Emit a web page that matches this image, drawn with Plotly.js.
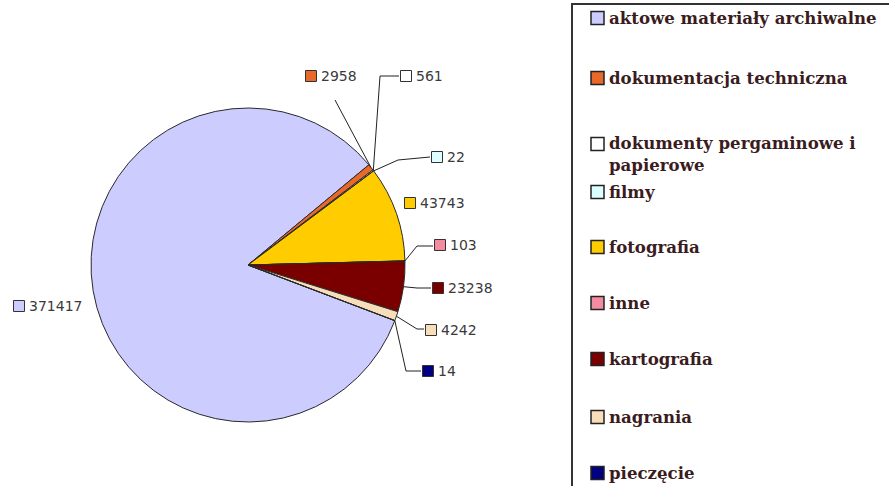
<!DOCTYPE html>
<html>
<head>
<meta charset="utf-8">
<script src="https://cdn.plot.ly/plotly-3.0.1.min.js"></script>
<style>html,body{margin:0;padding:0;background:#fff;}#chart{width:889px;height:486px;}</style>
</head>
<body>
<div id="chart"></div>
<script>
// ---- data ----
const categories = ["aktowe materiały archiwalne", "dokumentacja techniczna", "dokumenty pergaminowe i papierowe", "filmy", "fotografia", "inne", "kartografia", "nagrania", "pieczęcie"];
const counts = [371417, 2958, 561, 22, 43743, 103, 23238, 4242, 14];
const sliceColors = ["#CCCCFF", "#E8692A", "#FFFFFF", "#DDFFFF", "#FFCC00", "#F38CA0", "#7A0000", "#F8DDBB", "#000080"];

// ---- layout constants (pixels) ----
const W = 889, H = 486;
const CX = 248, CY = 265, R = 157;
const ROT = 110.75;
// label square centre + leader-line elbow points
const labelSq = [[19, 306], [311, 76], [406, 76], [437, 157], [410, 203], [440, 245], [438, 288], [431, 330], [428, 371]];
const leaders = [null, [[335, 100]], [[380, 76], [399, 76]], [[398, 160], [430, 157]], null, [[417, 246], [433, 246]], [[417, 288], [431, 288]], [[417, 329], [424, 329]], [[406, 371], [421, 371]]];
const legendY = [18, 78, 153.5, 192, 247, 303, 359, 417, 473];
const legendSqY = [18, 78, 144, 192, 247, 303, 359, 417, 473];

const total = counts.reduce((a, b) => a + b, 0);
const shapes = [];
const annotations = [];

// legend frame
shapes.push({type: 'rect', xref: 'x', yref: 'y', x0: 572, x1: 895, y0: 4, y1: 495, line: {color: '#333', width: 2}, fillcolor: 'rgba(0,0,0,0)'});

let cum = 0;
counts.forEach((v, i) => {
  const mid = (ROT + (cum + v / 2) / total * 360) * Math.PI / 180;
  cum += v;
  const px = CX + R * Math.sin(mid), py = CY - R * Math.cos(mid);
  const [sx, sy] = labelSq[i];
  if (leaders[i]) {
    let d = 'M' + px.toFixed(1) + ',' + py.toFixed(1);
    leaders[i].forEach(p => { d += ' L' + p[0] + ',' + p[1]; });
    shapes.push({type: 'path', xref: 'x', yref: 'y', path: d, line: {color: '#222', width: 1}});
  }
  shapes.push({type: 'rect', xref: 'x', yref: 'y', x0: sx - 5.5, x1: sx + 5.5, y0: sy - 5.5, y1: sy + 5.5, fillcolor: sliceColors[i], line: {color: '#333', width: 1}});
  annotations.push({xref: 'x', yref: 'y', x: sx + 8, y: sy, xanchor: 'left', yanchor: 'middle', showarrow: false,
    text: String(v), font: {family: 'DejaVu Sans', size: 14, color: '#3a3a3a'}});
  // legend
  const ly = legendSqY[i];
  shapes.push({type: 'rect', xref: 'x', yref: 'y', x0: 591, x1: 604, y0: ly - 6.5, y1: ly + 6.5, fillcolor: sliceColors[i], line: {color: '#222', width: 1.5}});
  annotations.push({xref: 'x', yref: 'y', x: 607, y: legendY[i], xanchor: 'left', yanchor: 'middle', align: 'left', showarrow: false,
    text: categories[i].replace(' i papierowe', ' i<br>papierowe'), font: {family: 'DejaVu Serif', size: 16.6, color: '#3a1c20', weight: 'bold'}});
});

const trace = {
  type: 'pie', labels: categories, values: counts, sort: false, direction: 'clockwise', rotation: ROT,
  marker: {colors: sliceColors, line: {color: '#2a2a2a', width: 1}},
  textinfo: 'none', hoverinfo: 'label+value', showlegend: false,
  domain: {x: [(CX - R) / W, (CX + R) / W], y: [(H - CY - R) / H, (H - CY + R) / H]}
};

const layout = {
  width: W, height: H, margin: {l: 0, r: 0, t: 0, b: 0},
  paper_bgcolor: '#fff', plot_bgcolor: 'rgba(0,0,0,0)', showlegend: false,
  xaxis: {range: [0, W], visible: false, fixedrange: true},
  yaxis: {range: [H, 0], visible: false, fixedrange: true},
  shapes: shapes, annotations: annotations
};

Plotly.newPlot('chart', [trace], layout, {displayModeBar: false, staticPlot: true});
</script>
</body>
</html>
